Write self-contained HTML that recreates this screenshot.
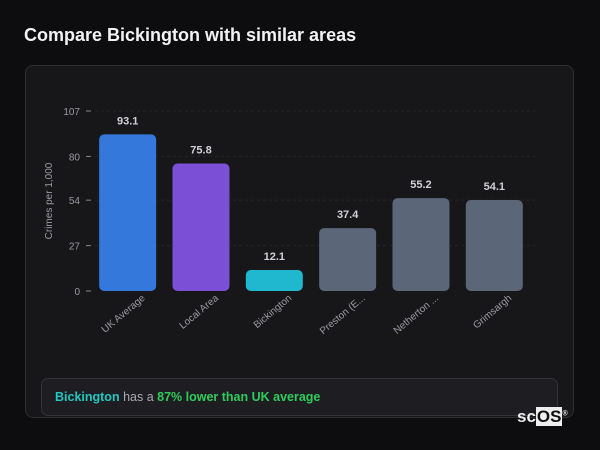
<!DOCTYPE html>
<html><head><meta charset="utf-8"><style>
body{margin:0;width:600px;height:450px;background:#0d0d10;font-family:"Liberation Sans",sans-serif;overflow:hidden;position:relative}
h1{position:absolute;left:24px;top:25px;margin:0;font-size:18px;font-weight:bold;color:#f2f2f5}
.card{position:absolute;left:25px;top:65px;width:549px;height:353px;background:#17171a;border:1px solid #2f2f33;border-radius:8px;box-sizing:border-box}
.callout{position:absolute;left:41px;top:378px;width:517px;height:38px;background:#1e1e22;border:1px solid #333338;border-radius:7px;box-sizing:border-box;font-size:12.5px;line-height:36px;padding-left:13px;color:#a8a8b0}
.logo{position:absolute;left:517px;top:407px;font-size:17px;font-weight:bold;color:#eee}
</style></head><body>
<h1>Compare Bickington with similar areas</h1>
<div class="card"></div>
<svg id="chart" width="600" height="450" style="position:absolute;left:0;top:0"></svg>
<div class="callout"><b style="color:#22c7c0">Bickington</b> has a <b style="color:#2ecc5c">87% lower than UK average</b></div>
<div class="logo">sc<span style="background:#eee;color:#111;padding:0 1px">OS</span><sup style="font-size:7px">®</sup></div>
<script>
const categories=["UK Average","Local Area","Bickington","Preston (E...","Netherton ...","Grimsargh"];
const values=[93.1,75.8,12.1,37.4,55.2,54.1];
const colors=["#3578dc","#7b4fd6","#1fb8cf","#5b6678","#5b6678","#5b6678"];
const ticks=[0,27,54,80,107];
const svg=document.getElementById('chart');const NS="http://www.w3.org/2000/svg";
const x0=91,bw=73.33,y0=291,yTop=111,ymax=107;
const y=v=>y0-(v/ymax)*(y0-yTop);
const xc=i=>x0+bw*i+bw/2;
function mk(t,a){const e=document.createElementNS(NS,t);for(const k in a)e.setAttribute(k,a[k]);svg.appendChild(e);return e;}
ticks.forEach(t=>{
 if(t>0){const g=mk('line',{x1:95,x2:535,y1:y(t),y2:y(t),stroke:'#26262b','stroke-dasharray':'3,3'});
 
 }
 const tk=mk('line',{x1:86,x2:91,y1:y(t),y2:y(t),stroke:'#888'});
 
 
 const l=mk('text',{x:80,y:y(t)+4,'text-anchor':'end','font-size':10,fill:'#9a9aa2'});l.textContent=t;
 
 
});
const yt=mk('text',{x:0,y:0,transform:'translate(52,201) rotate(-90)','text-anchor':'middle','font-size':10,fill:'#9a9aa2'});yt.textContent='Crimes per 1,000';


values.forEach((v,i)=>{
 const w=57,top=Math.min(y(v),y0-21);
 const r=mk('rect',{x:xc(i)-w/2,y:top,width:w,height:y0-top,rx:5,fill:colors[i]});
 
 
 const t=mk('text',{x:xc(i),y:top-10,'text-anchor':'middle','font-size':11,'font-weight':'bold',fill:'#d0d0d6'});t.textContent=v.toFixed(1);
 
 
 const c=mk('text',{x:0,y:0,transform:`translate(${xc(i)+18},${y0+8}) rotate(-40)`,'text-anchor':'end','font-size':10,fill:'#9a9aa2'});c.textContent=categories[i];
 
 
});
</script>
</body></html>
